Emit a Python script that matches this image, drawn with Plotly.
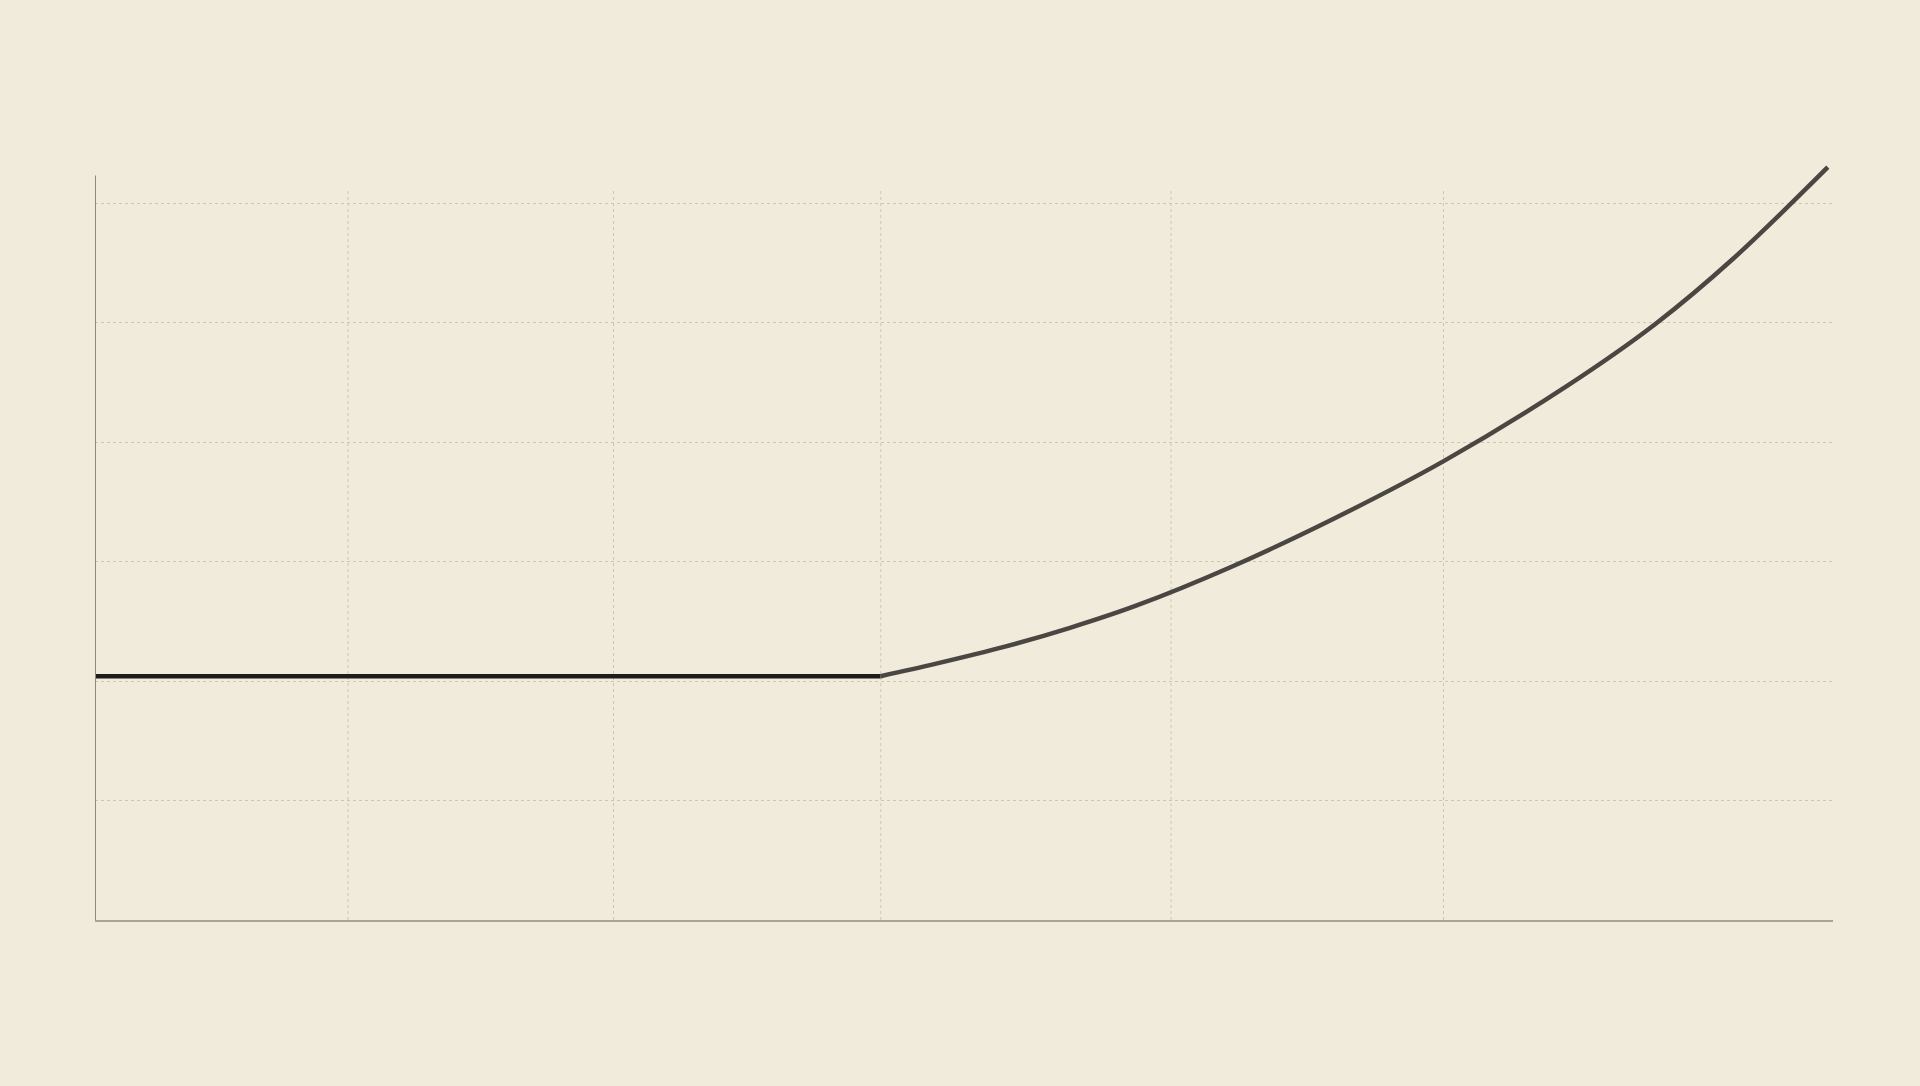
import plotly.graph_objs as go

# flat part of the series, then the rising part (x in 0-100 units, y in grid units)
flat_x = [0, 45.2]
flat_y = [2.04, 2.04]
curve_x = [45.2, 48.4, 52.3, 56.1, 59.9, 65.3, 71.3, 77.6, 84.7, 89.8, 94.3, 99.7]
curve_y = [2.04, 2.145, 2.285, 2.445, 2.63, 2.95, 3.36, 3.84, 4.47, 4.99, 5.54, 6.30]
vgrid_x = [14.56, 29.83, 45.21, 61.91, 77.59]
hgrid_y = [1, 2, 3, 4, 5, 6]

bg = '#f1ebdb'

fig = go.Figure()
fig.add_trace(go.Scatter(x=flat_x, y=flat_y, mode='lines',
                         line=dict(color='#1f1b18', width=4.5), hoverinfo='skip'))
fig.add_trace(go.Scatter(x=curve_x, y=curve_y, mode='lines',
                         line=dict(color='#4a4742', width=4.5, shape='spline', smoothing=1),
                         hoverinfo='skip'))

#vertical grid lines stop a bit below the top of the plot
for gx in vgrid_x:
    fig.add_shape(type='line', x0=gx, x1=gx, y0=0, y1=6.1, xref='x', yref='y', layer='below',
                  line=dict(color='#cdc6b3', width=1, dash='dot'))
#y axis line
fig.add_shape(type='line', x0=0, x1=0, y0=0, y1=6.23, xref='x', yref='y',
              line=dict(color='#8e897d', width=2))

fig.update_xaxes(range=[0, 100], showgrid=False, zeroline=False, showticklabels=False,
                 showline=True, linecolor='#a9a494', linewidth=2, ticks='')
fig.update_yaxes(range=[0, 6.36], tickvals=hgrid_y, showgrid=True, gridcolor='#cdc6b3',
                 gridwidth=1, griddash='dot', zeroline=False, showticklabels=False,
                 showline=False, ticks='')
fig.update_layout(width=1920, height=1086, showlegend=False,
                  paper_bgcolor=bg, plot_bgcolor=bg,
                  margin=dict(l=95, r=87, t=160, b=166))
#no white page margin round the figure
js = "document.body.style.margin='0';document.body.style.background='%s';" % bg
fig.write_html('out.html', config={'displayModeBar': False}, post_script=js)
print('Wrote out.html')
